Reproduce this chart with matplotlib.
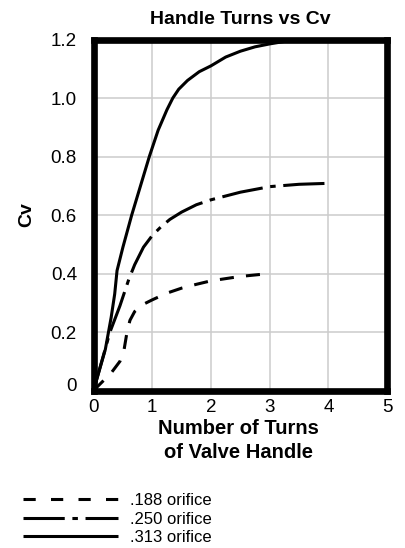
import matplotlib
matplotlib.use("Agg")
import matplotlib.pyplot as plt
from matplotlib.lines import Line2D

plt.rcParams['font.family'] = ['Liberation Sans', 'DejaVu Sans']

title = "Handle Turns vs Cv"
xlabel = "Number of Turns\nof Valve Handle"
ylabel = "Cv"
xticks = [0, 1, 2, 3, 4, 5]
yticks = [0, 0.2, 0.4, 0.6, 0.8, 1.0, 1.2]
ytick_labels = ["0", "0.2", "0.4", "0.6", "0.8", "1.0", "1.2"]

labels = [".188 orifice", ".250 orifice", ".313 orifice"]

x188 = [0, 0.15, 0.3, 0.45, 0.52, 0.57, 0.62, 0.7, 0.85, 1.0, 1.25, 1.5, 1.75, 2.0, 2.5, 3.0]
y188 = [0, 0.03, 0.06, 0.10, 0.14, 0.20, 0.24, 0.27, 0.295, 0.31, 0.333, 0.35, 0.363, 0.375, 0.39, 0.40]

x250 = [0, 0.14, 0.28, 0.45, 0.6, 0.7, 0.85, 1.0, 1.15, 1.3, 1.5, 1.75, 2.0, 2.5, 3.0, 3.5, 3.95]
y250 = [0, 0.10, 0.20, 0.29, 0.38, 0.43, 0.49, 0.53, 0.56, 0.585, 0.61, 0.635, 0.652, 0.678, 0.697, 0.705, 0.708]

x313 = [0, 0.1, 0.2, 0.3, 0.36, 0.4, 0.5, 0.65, 0.8, 0.95, 1.1, 1.25, 1.35, 1.45, 1.6, 1.8, 2.0, 2.25, 2.5, 2.75, 3.0, 3.3, 3.6, 4.0]
y313 = [0, 0.07, 0.14, 0.25, 0.33, 0.41, 0.49, 0.60, 0.70, 0.80, 0.89, 0.96, 1.0, 1.03, 1.06, 1.09, 1.11, 1.14, 1.16, 1.175, 1.185, 1.195, 1.2, 1.2]

fig = plt.figure(figsize=(4.05, 5.48), dpi=100)
ax = fig.add_axes([0.231, 0.2874, 0.725, 0.6405])

lw = 2.2
dash_188 = (4.6, 4.0)
dash_250 = (13.5, 2.5, 1.8, 2.5)
l1, = ax.plot(x188, y188, color='black', lw=lw, dashes=dash_188, dash_capstyle='butt')
l2, = ax.plot(x250, y250, color='black', lw=lw, dashes=dash_250, dash_capstyle='butt')
l3, = ax.plot(x313, y313, color='black', lw=lw, solid_capstyle='butt')

ax.set_xlim(0, 5)
ax.set_ylim(0, 1.2)
ax.set_xticks(xticks)
ax.set_yticks(yticks)
ax.set_yticklabels(ytick_labels)
ax.grid(True, color='#cccccc', lw=1.1)
ax.set_axisbelow(True)
for s in ax.spines.values():
    s.set_linewidth(4.8)
    s.set_zorder(5)
ax.tick_params(length=0, labelsize=13.5)
ax.tick_params(axis='y', pad=12)
ax.tick_params(axis='x', pad=6)
ax.get_yticklabels()[0].set_va('baseline')

ax.set_title(title, fontsize=14, fontweight='bold', pad=11.5)
ax.set_xlabel(xlabel, fontsize=14.5, fontweight='bold', linespacing=1.3)
ax.xaxis.set_label_coords(0.492, -0.082)
ax.set_ylabel(ylabel, fontsize=14, fontweight='bold')
ax.yaxis.set_label_coords(-0.198, 0.5)

h1 = Line2D([], [], color='black', lw=lw, dashes=(4.0, 5.0), dash_capstyle='butt')
h2 = Line2D([], [], color='black', lw=lw, dashes=dash_250, dash_capstyle='butt')
h3 = Line2D([], [], color='black', lw=lw, solid_capstyle='butt')
fig.legend([h1, h2, h3], labels, loc='upper left', bbox_to_anchor=(0.057, 0.100),
           frameon=False, handlelength=5.7, fontsize=12, labelspacing=0.21,
           handletextpad=0.72, borderpad=0, borderaxespad=0)

fig.savefig("out.png", dpi=100)
